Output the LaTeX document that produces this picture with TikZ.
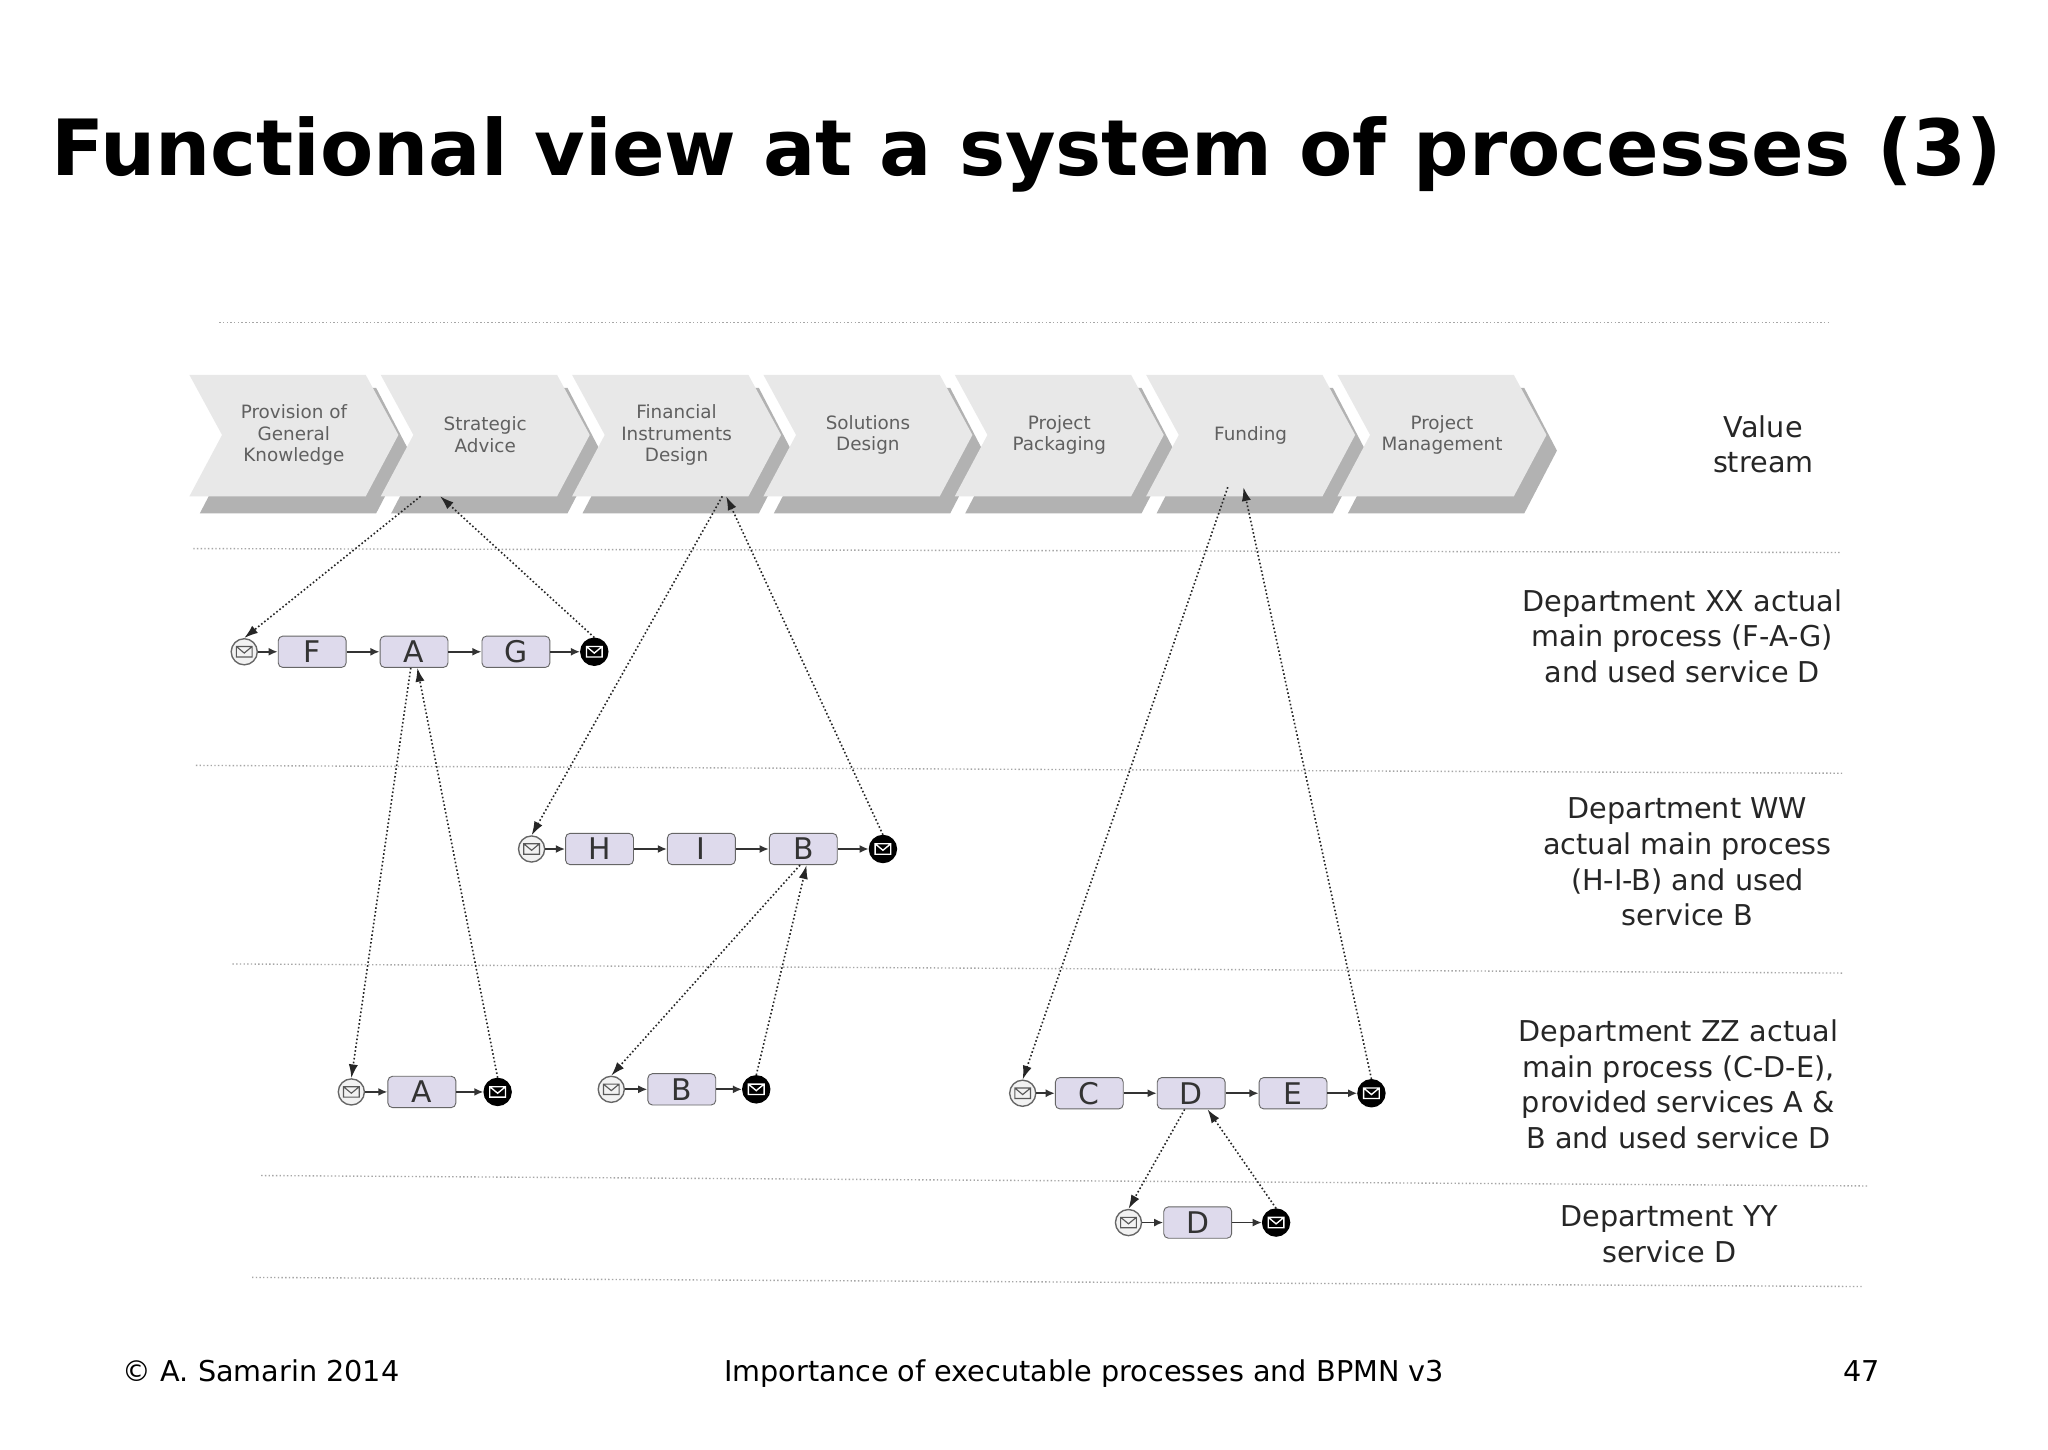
\documentclass[tikz,border=0pt]{standalone}
\usepackage{fontspec}
\setmainfont{DejaVu Sans}
\usetikzlibrary{arrows.meta}
\definecolor{taskfill}{HTML}{DEDAEC}
\tikzset{
 hline/.style={densely dotted,gray!70,line width=0.6pt},
 chev/.style={fill=gray!18,draw=none},
 chevsh/.style={fill=gray!60,draw=none},
 chevtxt/.style={font=\fontsize{8}{9.5}\selectfont,text=gray!75!black,align=center},
 task/.style={draw=gray!80!black,fill=taskfill,rounded corners=2pt,minimum width=1.04cm,minimum height=0.48cm,inner sep=0pt,font=\fontsize{13}{13}\selectfont,text=black!80},
 sev/.style={circle,draw=gray!80!black,fill=gray!10,minimum size=0.4cm,inner sep=0pt,line width=0.6pt},
 eev/.style={circle,draw=black,fill=black,minimum size=0.4cm,inner sep=0pt,line width=1pt},
 flow/.style={-{Latex[length=4pt,width=3.5pt]},line width=0.8pt,black!80},
 dlink/.style={-{Latex[length=6pt,width=4pt]},densely dotted,line width=0.7pt,black!85},
 lbl/.style={font=\fontsize{12.5}{15.5}\selectfont,align=center,text=black!85},
 foot/.style={font=\fontsize{12.5}{14}\selectfont,anchor=base},
}
\newcommand{\envS}[1]{\draw[gray!70!black,line width=0.5pt] ([shift={(-6,-4)}]#1.center) rectangle ([shift={(6,4)}]#1.center) ([shift={(-6,-4)}]#1.center) -- ([shift={(0,1)}]#1.center) -- ([shift={(6,-4)}]#1.center);}
\newcommand{\envE}[1]{\draw[white,line width=0.6pt] ([shift={(-6,-4)}]#1.center) rectangle ([shift={(6,4)}]#1.center) ([shift={(-6,-4)}]#1.center) -- ([shift={(0,1)}]#1.center) -- ([shift={(6,-4)}]#1.center);}
\begin{document}
\begin{tikzpicture}[x=0.02cm,y=-0.02cm]
\useasboundingbox[fill=white] (0,0) rectangle (1568,1110);
\node[font=\bfseries\fontsize{33.8}{40}\selectfont] (title) at (786,118) {Functional view at a system of processes (3)};
% horizontal dotted lines
\draw[hline] (168,247) -- (1400,247);
\draw[hline] (148,420) -- (1410,423);
\draw[hline] (150,586) -- (1412,592);
\draw[hline] (178,738) -- (1412,745);
\draw[hline] (200,900) -- (1430,908);
\draw[hline] (193,978) -- (1427,985);
% chevrons
\foreach \i/\t in {0/{Provision of\\General\\Knowledge},1/{Strategic\\Advice},2/{Financial\\Instruments\\Design},3/{Solutions\\Design},4/{Project\\Packaging},5/{Funding},6/{Project\\Management}}{
  \pgfmathsetmacro{\xo}{145+146.5*\i}
  \fill[chevsh] (\xo+8,297) -- (\xo+143,297) -- (\xo+168,345) -- (\xo+143,393) -- (\xo+8,393) -- (\xo+33,345) -- cycle;
  \fill[chev] (\xo,287) -- (\xo+135,287) -- (\xo+160,333) -- (\xo+135,380) -- (\xo,380) -- (\xo+25,333) -- cycle;
  \node[chevtxt] (ch\i) at (\xo+80,333) {\t};
}
\coordinate (c1a) at (322,380); \coordinate (c1b) at (337,380);
\coordinate (c2a) at (553,380); \coordinate (c2b) at (556,380);
\coordinate (c5a) at (940,373); \coordinate (c5b) at (952,373);
\node[lbl] (vs) at (1350,340) {Value\\stream};
% row XX
\node[sev] (s1) at (187,499) {}; \envS{s1}
\node[task] (F) at (239,499) {F};
\node[task] (A1) at (317,499) {A};
\node[task] (G) at (395,499) {G};
\node[eev] (e1) at (455,499) {}; \envE{e1}
\draw[flow] (s1) -- (F); \draw[flow] (F) -- (A1); \draw[flow] (A1) -- (G); \draw[flow] (G) -- (e1);
% row WW
\node[sev] (s2) at (407,650) {}; \envS{s2}
\node[task] (H) at (459,650) {H};
\node[task] (I) at (537,650) {I};
\node[task] (B1) at (615,650) {B};
\node[eev] (e2) at (676,650) {}; \envE{e2}
\draw[flow] (s2) -- (H); \draw[flow] (H) -- (I); \draw[flow] (I) -- (B1); \draw[flow] (B1) -- (e2);
% row ZZ
\node[sev] (s3) at (269,836) {}; \envS{s3}
\node[task] (A2) at (323,836) {A};
\node[eev] (e3) at (381,836) {}; \envE{e3}
\draw[flow] (s3) -- (A2); \draw[flow] (A2) -- (e3);
\node[sev] (s4) at (468,834) {}; \envS{s4}
\node[task] (B2) at (522,834) {B};
\node[eev] (e4) at (579,834) {}; \envE{e4}
\draw[flow] (s4) -- (B2); \draw[flow] (B2) -- (e4);
\node[sev] (s5) at (783,837) {}; \envS{s5}
\node[task] (C) at (834,837) {C};
\node[task] (D1) at (912,837) {D};
\node[task] (E) at (990,837) {E};
\node[eev] (e5) at (1050,837) {}; \envE{e5}
\draw[flow] (s5) -- (C); \draw[flow] (C) -- (D1); \draw[flow] (D1) -- (E); \draw[flow] (E) -- (e5);
% row YY
\node[sev] (s6) at (864,936) {}; \envS{s6}
\node[task] (D2) at (917,936) {D};
\node[eev] (e6) at (977,936) {}; \envE{e6}
\draw[flow] (s6) -- (D2); \draw[flow] (D2) -- (e6);
% dashed links
\draw[dlink] (c1a) -- (s1.north);
\draw[dlink] (e1.north) -- (c1b);
\draw[dlink] (c2a) -- (s2.north);
\draw[dlink] (e2.north) -- (c2b);
\draw[dlink] (c5a) -- (s5.north);
\draw[dlink] (e5.north) -- (c5b);
\draw[dlink] ([xshift=-0.05cm]A1.south) -- (s3.north);
\draw[dlink] (e3.north) -- ([xshift=0.05cm]A1.south);
\draw[dlink] ([xshift=-0.05cm]B1.south) -- (s4.north);
\draw[dlink] (e4.north) -- ([xshift=0.05cm]B1.south);
\draw[dlink] ([xshift=-0.1cm]D1.south) -- (s6.north);
\draw[dlink] (e6.north) -- ([xshift=0.25cm]D1.south);
% labels
\node[lbl] (lxx) at (1288,487) {Department XX actual\\main process (F-A-G)\\and used service D};
\node[lbl] (lww) at (1292,660) {Department WW\\actual main process\\(H-I-B) and used\\service B};
\node[lbl] (lzz) at (1285,830) {Department ZZ actual\\main process (C-D-E),\\provided services A \&\\B and used service D};
\node[lbl] (lyy) at (1278,945) {Department YY\\service D};
% footer
\node[foot] (f1) at (200,1058) {© A. Samarin 2014};
\node[foot] (f2) at (830,1058) {Importance of executable processes and BPMN v3};
\node[foot] (f3) at (1425,1058) {47};
\end{tikzpicture}
\end{document}
